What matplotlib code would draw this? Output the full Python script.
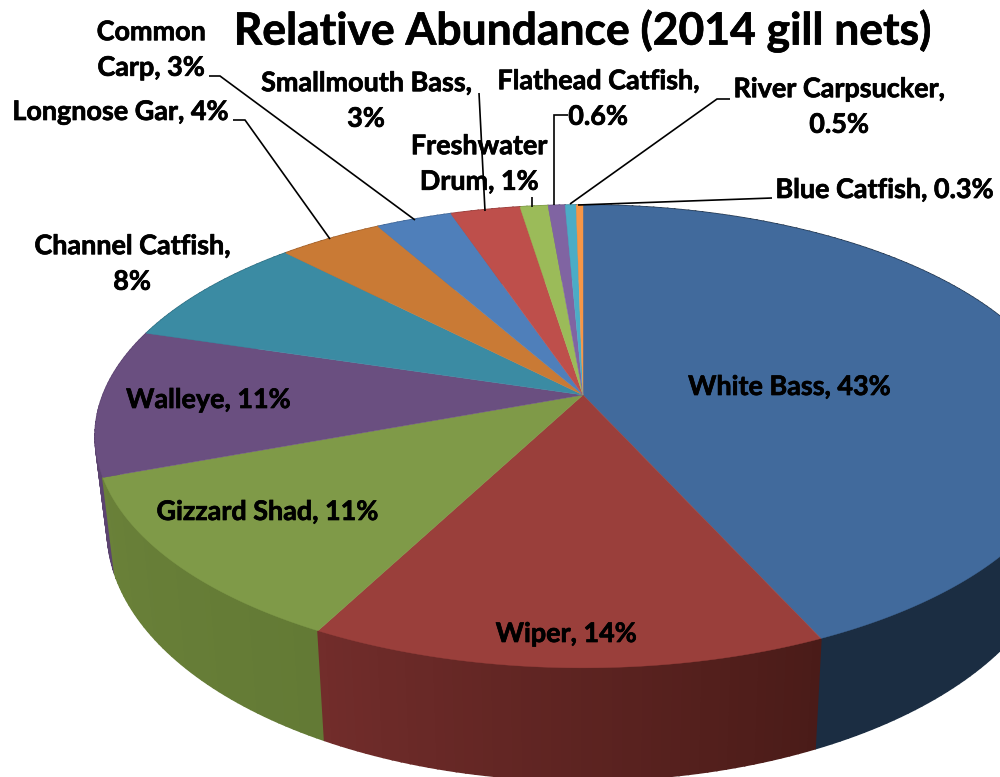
#!/usr/bin/env python3
"""Relative abundance 3D pie, drawn by hand because matplotlib has no perspective pie."""

import numpy as np
import matplotlib
matplotlib.use("Agg")
import matplotlib.pyplot as plt
import matplotlib.patheffects as pe
from matplotlib.colors import to_rgb
from matplotlib.patches import Polygon

species = ["White Bass", "Wiper", "Gizzard Shad", "Walleye", "Channel Catfish", "Longnose Gar",
           "Common Carp", "Smallmouth Bass", "Freshwater Drum", "Flathead Catfish",
           "River Carpsucker", "Blue Catfish"]
abundance = [43.2, 14.5, 11.7, 10.3, 8.0, 4.1, 3.0, 2.75, 1.1, 0.67, 0.43, 0.27]

top_colors = ["#416a9c", "#9a3f3b", "#7f9a48", "#6a4f80", "#3b8ba3", "#c97a35",
              "#4f7fba", "#be4f4b", "#9bbb59", "#8064a2", "#4bacc6", "#f79646"]
side_left = ["#1b2d42", "#722d2b", "#6a8139", "#5c4470", "#2d6b7e", "#9b5c28",
             "#3c6190", "#913a38", "#769045", "#614b7c", "#388399", "#bd7235"]
side_right = ["#1b2d42", "#4a1b18", "#637a35", "#5c4470", "#2d6b7e", "#9b5c28",
              "#3c6190", "#913a38", "#769045", "#614b7c", "#388399", "#bd7235"]

# label text, centre x, centre y
labels = [("White Bass, 43%", 789, 387), ("Wiper, 14%", 566, 634), ("Gizzard Shad, 11%", 267, 512),
          ("Walleye, 11%", 208, 400), ("Channel Catfish,\n8%", 132, 264),
          ("Longnose Gar, 4%", 120, 112), ("Common\nCarp, 3%", 151, 50),
          ("Smallmouth Bass,\n3%", 366, 101), ("Freshwater\nDrum, 1%", 479, 164),
          ("Flathead Catfish,\n0.6%", 598, 99), ("River Carpsucker,\n0.5%", 839, 107),
          ("Blue Catfish, 0.3%", 884, 190)]

# leader lines, label end first
leaders = [([209, 220, 415], [76, 76, 220]), ([233, 245, 330], [120, 120, 239]),
           ([479, 485], [93, 211]), ([532, 532], [197, 207]),
           ([568, 554, 554], [115, 115, 205]), ([730, 717, 570], [99, 99, 204]),
           ([772, 578], [198, 205])]

CX, CY = 583.0, 395.0
RX, RY = 480.0, 224.0
PERSP = 0.179


def rim_top(theta):
    # theta runs clockwise from 12 o'clock, far side of the disc is squeezed
    s = 1.0 / (1.0 + PERSP * np.cos(theta))
    return CX + RX * np.sin(theta) * s, CY - RY * np.cos(theta) * s


def rim_bottom(theta):
    x, y = rim_top(theta)
    return CX + (x - CX) * 0.975, y + 97 + (y - 478) * 0.083


fig = plt.figure(figsize=(10, 7.77), dpi=100)
ax = fig.add_axes([0, 0, 1, 1])
ax.set_xlim(0, 1000)
ax.set_ylim(777, 0)
ax.axis("off")

plt.rcParams["font.family"] = ["Lato", "DejaVu Sans"]

fracs = np.array(abundance) / np.sum(abundance)
edges = np.concatenate([[0.0], np.cumsum(fracs)]) * 2 * np.pi

# side wall first, back to front
quads = []
for i in range(len(species)):
    n = max(2, int((edges[i + 1] - edges[i]) / np.deg2rad(1.0)) + 1)
    th = np.linspace(edges[i], edges[i + 1], n + 1)
    xt, yt = rim_top(th)
    xb, yb = rim_bottom(th)
    cl, cr = np.array(to_rgb(side_left[i])), np.array(to_rgb(side_right[i]))
    for k in range(n):
        t = (k + 0.5) / n
        # angles run right to left along the front, so t=0 is the right colour
        col = cr + (cl - cr) * t
        pts = [(xt[k], yt[k]), (xt[k + 1], yt[k + 1]), (xb[k + 1], yb[k + 1]), (xb[k], yb[k])]
        quads.append((0.5 * (yt[k] + yt[k + 1]), pts, col))
for _, pts, col in sorted(quads, key=lambda q: q[0]):
    ax.add_patch(Polygon(pts, closed=True, facecolor=col, edgecolor=col, lw=1.2))

# top face
for i in range(len(species)):
    th = np.linspace(edges[i], edges[i + 1], max(3, int((edges[i + 1] - edges[i]) / np.deg2rad(0.5))))
    xt, yt = rim_top(th)
    pts = np.column_stack([np.r_[CX, xt], np.r_[CY, yt]])
    ax.add_patch(Polygon(pts, closed=True, facecolor=top_colors[i], edgecolor=top_colors[i], lw=0.3))

for xs, ys in leaders:
    ax.plot(xs, ys, color="black", lw=1.2, solid_capstyle="butt", solid_joinstyle="miter")

thicker = [pe.withStroke(linewidth=0.5, foreground="black")]
for text, x, y in labels:
    ax.text(x, y, text, ha="center", va="center", fontsize=19.4, fontweight="bold",
            color="black", linespacing=1.58, path_effects=thicker)

ax.text(583, 31, "Relative Abundance (2014 gill nets)", ha="center", va="center",
        fontsize=32, fontweight="bold", color="black", path_effects=thicker)

fig.savefig("out.png", dpi=100)
